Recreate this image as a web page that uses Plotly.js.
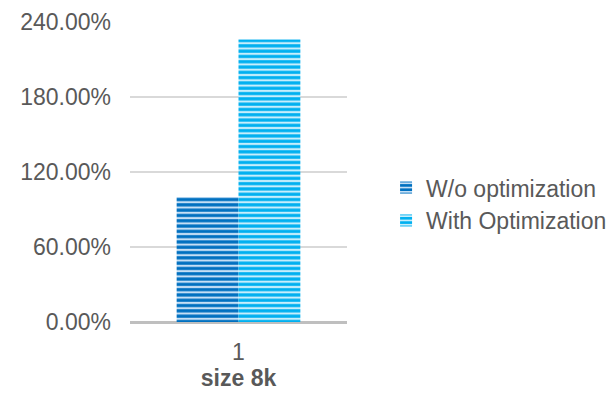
<!DOCTYPE html>
<html>
<head>
<meta charset="utf-8">
<script src="https://cdn.plot.ly/plotly-3.0.1.min.js"></script>
<style>
  html, body { margin: 0; padding: 0; background: #fff; }
  #chart { width: 612px; height: 395px; }
</style>
</head>
<body>
<div id="chart"></div>
<script>
// Relative performance for the 8k size, as a fraction of baseline
const categories = ['1'];
const withoutOptimization = [1.00];
const withOptimization = [2.26];
const seriesNames = ['W/o optimization', 'With Optimization'];
const yTicks = [0, 0.6, 1.2, 1.8, 2.4];

const textColor = '#595959';
const fontFamily = '"Liberation Sans", Arial, sans-serif';
const fontSize = 23;

function stripedBar(name, values, fg, bg) {
  return {
    type: 'bar',
    name: name,
    x: categories,
    y: values,
    marker: {
      color: bg,
      line: { width: 0 },
      pattern: { shape: '-', fgcolor: fg, bgcolor: bg, fgopacity: 1, size: 5.3, solidity: 0.6, fillmode: 'replace' }
    },
    hoverinfo: 'skip'
  };
}

const traces = [
  stripedBar(seriesNames[0], withoutOptimization, '#0070C0', '#C5DFF5'),
  stripedBar(seriesNames[1], withOptimization, '#00B0F0', '#C6EEFC')
];

const layout = {
  width: 612,
  height: 395,
  margin: { l: 130, r: 265, t: 22, b: 73, autoexpand: false },
  paper_bgcolor: '#ffffff',
  plot_bgcolor: '#ffffff',
  font: { family: fontFamily, color: textColor, size: fontSize },
  barmode: 'group',
  bargap: 0.43,
  bargroupgap: 0,
  showlegend: true,
  legend: {
    x: 1.18, xanchor: 'left',
    y: 0.393, yanchor: 'middle',
    font: { size: fontSize, color: textColor },
    itemwidth: 30,
    tracegroupgap: 0
  },
  xaxis: {
    type: 'category',
    showgrid: false,
    showline: false,
    ticks: '',
    ticklabelstandoff: 14,
    tickfont: { size: fontSize, color: textColor },
    title: { text: '<b>size 8k</b>', font: { size: fontSize, color: textColor }, standoff: 4 }
  },
  yaxis: {
    range: [0, 2.4],
    tickvals: yTicks,
    tickformat: '.2%',
    showgrid: true,
    gridcolor: '#D9D9D9',
    gridwidth: 2,
    zeroline: true,
    zerolinecolor: '#BFBFBF',
    zerolinewidth: 3,
    showline: false,
    ticks: '',
    ticklabelstandoff: 18,
    tickfont: { size: fontSize, color: textColor }
  }
};

Plotly.newPlot('chart', traces, layout, { displayModeBar: false, staticPlot: true });
</script>
</body>
</html>
